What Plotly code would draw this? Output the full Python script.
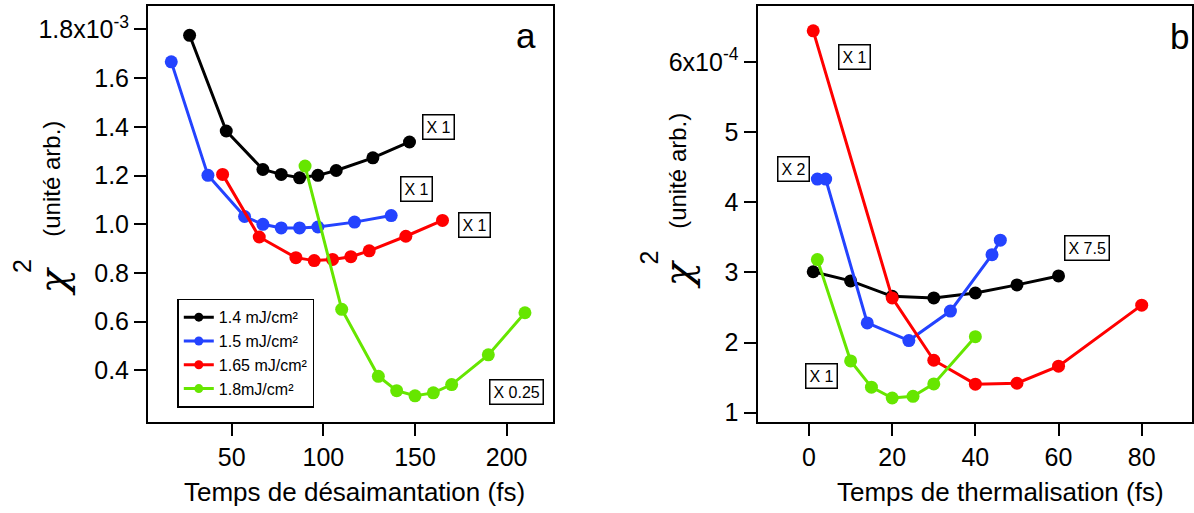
import plotly.graph_objects as go

# ---------------- data ----------------
# Panel a : Temps de désaimantation (fs) vs chi^2 (x 1e-3)
a_labels = ["1.4 mJ/cm²", "1.5 mJ/cm²", "1.65 mJ/cm²", "1.8mJ/cm²"]
a_x_14 = [27, 47, 67, 77, 87, 97, 107, 127, 147]
a_y_14 = [1.776, 1.383, 1.225, 1.205, 1.191, 1.201, 1.221, 1.273, 1.338]
a_x_15 = [17, 37, 57, 67, 77, 87, 97, 117, 137]
a_y_15 = [1.667, 1.201, 1.032, 1.000, 0.985, 0.985, 0.989, 1.009, 1.036]
a_x_165 = [45, 65, 85, 95, 105, 115, 125, 145, 165]
a_y_165 = [1.205, 0.948, 0.863, 0.851, 0.856, 0.867, 0.891, 0.951, 1.016]
a_x_18 = [90, 110, 130, 140, 150, 160, 170, 190, 210]
a_y_18 = [1.239, 0.651, 0.376, 0.317, 0.296, 0.308, 0.342, 0.464, 0.637]

# Panel b : Temps de thermalisation (fs) vs chi^2 (x 1e-4)
b_x_14 = [1, 10, 20, 30, 40, 50, 60]
b_y_14 = [3.009, 2.879, 2.659, 2.636, 2.706, 2.822, 2.949]
b_x_15 = [2, 4, 14, 24, 34, 44, 46]
b_y_15 = [4.33, 4.33, 2.28, 2.028, 2.449, 3.252, 3.459]
b_x_165 = [1, 20, 30, 40, 50, 60, 80]
b_y_165 = [6.442, 2.636, 1.748, 1.407, 1.42, 1.664, 2.533]
b_x_18 = [2, 10, 15, 20, 25, 30, 40]
b_y_18 = [3.182, 1.738, 1.364, 1.21, 1.234, 1.411, 2.084]

a_xticks = [50, 100, 150, 200]
a_yticks = [0.4, 0.6, 0.8, 1.0, 1.2, 1.4, 1.6, 1.8]
a_yticktext = ["0.4", "0.6", "0.8", "1.0", "1.2", "1.4", "1.6", "1.8x10<sup>-3</sup>"]
b_xticks = [0, 20, 40, 60, 80]
b_yticks = [1, 2, 3, 4, 5, 6]
b_yticktext = ["1", "2", "3", "4", "5", "6x10<sup>-4</sup>"]

colors = ["#000000", "#2443ff", "#ff0000", "#66e600"]

W, H = 1194, 513
FONT = "Liberation Sans, Arial, sans-serif"


def px(x):
    return x / W


def py(y):
    return 1 - y / H


fig = go.Figure()

a_series = [(a_x_14, a_y_14), (a_x_15, a_y_15), (a_x_165, a_y_165), (a_x_18, a_y_18)]
b_series = [(b_x_14, b_y_14), (b_x_15, b_y_15), (b_x_165, b_y_165), (b_x_18, b_y_18)]

for (xs, ys), c in zip(a_series, colors):
    fig.add_trace(go.Scatter(x=xs, y=ys, mode="lines+markers", xaxis="x", yaxis="y",
                             line=dict(color=c, width=3), marker=dict(color=c, size=13),
                             showlegend=False))
for (xs, ys), c in zip(b_series, colors):
    fig.add_trace(go.Scatter(x=xs, y=ys, mode="lines+markers", xaxis="x2", yaxis="y2",
                             line=dict(color=c, width=3), marker=dict(color=c, size=13),
                             showlegend=False))
# legend entries
for name, c in zip(a_labels, colors):
    fig.add_trace(go.Scatter(x=[None], y=[None], mode="lines+markers", name=name,
                             xaxis="x", yaxis="y",
                             line=dict(color=c, width=3), marker=dict(color=c, size=9)))

axis_common = dict(showline=True, linecolor="black", linewidth=2, mirror=True,
                   ticks="outside", ticklen=12, tickwidth=2, tickcolor="black",
                   showgrid=False, zeroline=False,
                   tickfont=dict(family=FONT, size=25, color="black"))

dom_y = [1 - 426 / H, 1 - 6.5 / H]
fig.update_layout(
    width=W, height=H, margin=dict(l=0, r=0, t=0, b=0),
    paper_bgcolor="white", plot_bgcolor="white",
    font=dict(family=FONT, color="black"),
    xaxis=dict(domain=[px(148), px(553)], range=[4.3, 225.3], tickvals=a_xticks,
               anchor="y", **axis_common),
    yaxis=dict(domain=dom_y, range=[0.189, 1.8945], tickvals=a_yticks,
               ticktext=a_yticktext, anchor="x", **axis_common),
    xaxis2=dict(domain=[px(757.5), px(1192)], range=[-12.4, 92.1], tickvals=b_xticks,
                anchor="y2", **axis_common),
    yaxis2=dict(domain=dom_y, range=[0.87, 6.79], tickvals=b_yticks,
                ticktext=b_yticktext, anchor="x2", **axis_common),
    legend=dict(x=px(177.3), y=py(301.7), xanchor="left", yanchor="top",
                bordercolor="black", borderwidth=1.5, bgcolor="white",
                font=dict(family=FONT, size=16, color="black"),
                tracegroupgap=0, itemwidth=30),
)

anns = []


def txt(x, y, t, size, angle=0, box=False, family=FONT):
    d = dict(x=px(x), y=py(y), xref="paper", yref="paper", text=t, showarrow=False,
             xanchor="center", yanchor="middle", textangle=angle,
             font=dict(family=family, size=size, color="black"))
    if box:
        d.update(bordercolor="black", borderwidth=1.5, borderpad=3, bgcolor="white")
    anns.append(d)


# boxes panel a
txt(438, 128, "X 1", 16, box=True)
txt(416.5, 191, "X 1", 16, box=True)
txt(474.7, 227, "X 1", 16, box=True)
txt(516.5, 395.5, "X 0.25", 16, box=True)
# boxes panel b
txt(854, 57.5, "X 1", 16, box=True)
txt(793, 171, "X 2", 16, box=True)
txt(1087, 250, "X 7.5", 16, box=True)
txt(821, 379.5, "X 1", 16, box=True)
# panel letters
txt(526, 36, "a", 35)
txt(1179.5, 37, "b", 35)
# x titles
txt(354, 497, "Temps de désaimantation (fs)", 26)
txt(1000, 497, "Temps de thermalisation (fs)", 26)
# y titles panel a
CHI = "DejaVu Serif, serif"
txt(51.5, 181, "(unité arb.)", 24, angle=-90)
txt(53, 284, "<i>χ</i>", 40, angle=-90, family=CHI)
txt(22, 268.5, "2", 25, angle=-90)
# y titles panel b
txt(677.5, 172, "(unité arb.)", 24, angle=-90)
txt(678, 277, "<i>χ</i>", 40, angle=-90, family=CHI)
txt(649, 260, "2", 25, angle=-90)

fig.update_layout(annotations=anns)
fig.write_html("out.html", post_script="document.body.style.margin='0';",
               config={"displayModeBar": False})
